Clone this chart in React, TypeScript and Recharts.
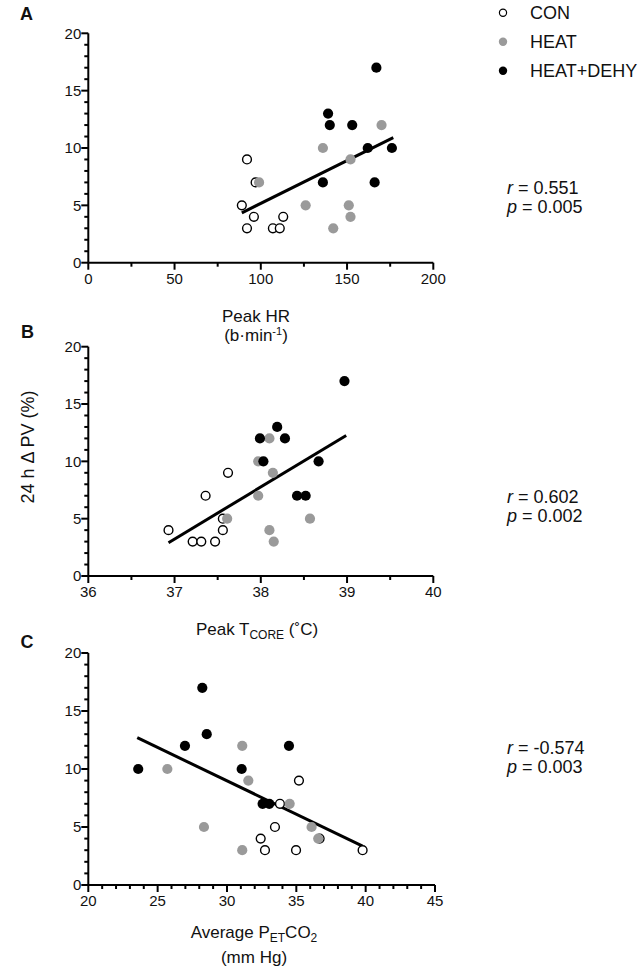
import { ScatterChart, Scatter, XAxis, YAxis, ReferenceLine } from 'recharts';

// A: Peak HR vs 24 h ΔPV
const conA = [{ x: 92, y: 9 }, { x: 97, y: 7 }, { x: 89, y: 5 }, { x: 96, y: 4 }, { x: 92, y: 3 }, { x: 107, y: 3 }, { x: 111, y: 3 }, { x: 113, y: 4 }];
const heatA = [{ x: 99, y: 7 }, { x: 136, y: 10 }, { x: 126, y: 5 }, { x: 152, y: 9 }, { x: 151, y: 5 }, { x: 152, y: 4 }, { x: 142, y: 3 }, { x: 170, y: 12 }];
const dehyA = [{ x: 139, y: 13 }, { x: 140, y: 12 }, { x: 153, y: 12 }, { x: 167, y: 17 }, { x: 136, y: 7 }, { x: 162, y: 10 }, { x: 176, y: 10 }, { x: 166, y: 7 }];
const fitA = [{ x: 89, y: 4.35 }, { x: 176.8, y: 10.9 }];

// B: Peak Tcore
const conB = [{ x: 36.93, y: 4 }, { x: 37.21, y: 3 }, { x: 37.31, y: 3 }, { x: 37.47, y: 3 }, { x: 37.36, y: 7 }, { x: 37.56, y: 5 }, { x: 37.56, y: 4 }, { x: 37.62, y: 9 }];
const heatB = [{ x: 37.61, y: 5 }, { x: 37.97, y: 7 }, { x: 37.97, y: 10 }, { x: 38.1, y: 12 }, { x: 38.14, y: 9 }, { x: 38.1, y: 4 }, { x: 38.15, y: 3 }, { x: 38.57, y: 5 }];
const dehyB = [{ x: 37.99, y: 12 }, { x: 38.03, y: 10 }, { x: 38.19, y: 13 }, { x: 38.28, y: 12 }, { x: 38.42, y: 7 }, { x: 38.52, y: 7 }, { x: 38.67, y: 10 }, { x: 38.97, y: 17 }];
const fitB = [{ x: 36.93, y: 2.9 }, { x: 38.99, y: 12.26 }];

// C: Average PetCO2
const conC = [{ x: 33.82, y: 7 }, { x: 35.19, y: 9 }, { x: 33.46, y: 5 }, { x: 32.43, y: 4 }, { x: 32.74, y: 3 }, { x: 34.98, y: 3 }, { x: 36.68, y: 4 }, { x: 39.78, y: 3 }];
const heatC = [{ x: 25.7, y: 10 }, { x: 28.34, y: 5 }, { x: 31.1, y: 12 }, { x: 31.54, y: 9 }, { x: 31.1, y: 3 }, { x: 34.52, y: 7 }, { x: 36.1, y: 5 }, { x: 36.58, y: 4 }];
const dehyC = [{ x: 23.6, y: 10 }, { x: 26.97, y: 12 }, { x: 28.22, y: 17 }, { x: 28.54, y: 13 }, { x: 31.06, y: 10 }, { x: 32.57, y: 7 }, { x: 33.05, y: 7 }, { x: 34.47, y: 12 }];
const fitC = [{ x: 23.53, y: 12.7 }, { x: 39.78, y: 3.36 }];

const yTicks = [0, 1, 2, 3, 4, 5, 6, 7, 8, 9, 10, 11, 12, 13, 14, 15, 16, 17, 18, 19, 20];
const yLabels = [0, 5, 10, 15, 20];
const xTicksA = [0, 25, 50, 75, 100, 125, 150, 175, 200];
const xLabelsA = [0, 50, 100, 150, 200];
const xTicksB = [36, 36.5, 37, 37.5, 38, 38.5, 39, 39.5, 40];
const xLabelsB = [36, 37, 38, 39, 40];
const xTicksC = [20, 21, 22, 23, 24, 25, 26, 27, 28, 29, 30, 31, 32, 33, 34, 35, 36, 37, 38, 39, 40, 41, 42, 43, 44, 45];
const xLabelsC = [20, 25, 30, 35, 40, 45];

const groups = ['CON', 'HEAT', 'HEAT+DEHY'];

const FONT = '"Liberation Sans", Arial, Helvetica, sans-serif';
const GRAY = '#9a9a9a';

const openDot = (p: any) => <circle cx={p.cx} cy={p.cy} r={4.4} fill="#fff" stroke="#000" strokeWidth={1.4} />;
const grayDot = (p: any) => <circle cx={p.cx} cy={p.cy} r={5.1} fill={GRAY} />;
const blackDot = (p: any) => <circle cx={p.cx} cy={p.cy} r={5.1} fill="#000" />;

const makeXTick = (labels: number[]) => (props: any) => {
    const { x, y, payload } = props;
    const major = labels.includes(payload.value);
    return (
        <g>
            <line x1={x} x2={x} y1={y} y2={y + (major ? 7 : 4)} stroke="#000" strokeWidth={2} />
            {major && (
                <text x={x} y={y + 21} textAnchor="middle" fontSize={15} fill="#111" fontFamily={FONT}>
                    {payload.value}
                </text>
            )}
        </g>
    );
};

const YTick = (props: any) => {
    const { x, y, payload } = props;
    const major = yLabels.includes(payload.value);
    return (
        <g>
            <line x1={x} x2={x - (major ? 7 : 4)} y1={y} y2={y} stroke="#000" strokeWidth={2} />
            {major && (
                <text x={x - 7} y={y + 5.3} textAnchor="end" fontSize={15} fill="#111" fontFamily={FONT}>
                    {payload.value}
                </text>
            )}
        </g>
    );
};

interface PanelProps {
    top: number;
    height: number;
    marginTop: number;
    marginRight: number;
    xAxisHeight: number;
    domain: [number, number];
    ticks: number[];
    labels: number[];
    con: { x: number; y: number }[];
    heat: { x: number; y: number }[];
    dehy: { x: number; y: number }[];
    fit: { x: number; y: number }[];
}

function Panel(p: PanelProps) {
    return (
        <div style={{ position: 'absolute', left: 0, top: p.top }}>
            <ScatterChart
                width={641}
                height={p.height}
                margin={{ top: p.marginTop, right: p.marginRight, bottom: 0, left: 0 }}
            >
                <XAxis
                    type="number"
                    dataKey="x"
                    domain={p.domain}
                    ticks={p.ticks}
                    interval={0}
                    height={p.xAxisHeight}
                    axisLine={{ stroke: '#000', strokeWidth: 2 }}
                    tickLine={false}
                    tickSize={0}
                    tickMargin={0}
                    tick={makeXTick(p.labels)}
                />
                <YAxis
                    type="number"
                    dataKey="y"
                    domain={[0, 20]}
                    ticks={yTicks}
                    interval={0}
                    width={88.3}
                    axisLine={{ stroke: '#000', strokeWidth: 2 }}
                    tickLine={false}
                    tickSize={0}
                    tickMargin={0}
                    tick={YTick}
                />
                <Scatter name={groups[0]} data={p.con} shape={openDot} isAnimationActive={false} />
                <Scatter name={groups[1]} data={p.heat} shape={grayDot} isAnimationActive={false} />
                <Scatter name={groups[2]} data={p.dehy} shape={blackDot} isAnimationActive={false} />
                <ReferenceLine
                    segment={[p.fit[0], p.fit[1]]}
                    stroke="#000"
                    strokeWidth={3}
                />
            </ScatterChart>
        </div>
    );
}

export default function App() {
    return (
        <div style={{ position: 'absolute', left: 0, top: 0, width: 641, height: 967, background: '#fff', fontFamily: FONT }}>
            <Panel top={0} height={300} marginTop={33.3} marginRight={207.7} xAxisHeight={37.3}
                domain={[0, 200]} ticks={xTicksA} labels={xLabelsA}
                con={conA} heat={heatA} dehy={dehyA} fit={fitA} />
            <Panel top={300} height={310} marginTop={46.7} marginRight={207.7} xAxisHeight={34}
                domain={[36, 40]} ticks={xTicksB} labels={xLabelsB}
                con={conB} heat={heatB} dehy={dehyB} fit={fitB} />
            <Panel top={610} height={300} marginTop={43} marginRight={206} xAxisHeight={25}
                domain={[20, 45]} ticks={xTicksC} labels={xLabelsC}
                con={conC} heat={heatC} dehy={dehyC} fit={fitC} />

            <svg width={641} height={967} style={{ position: 'absolute', left: 0, top: 0, pointerEvents: 'none' }} fontFamily={FONT} fill="#111">
                {/* panel letters */}
                <text x={20} y={19.7} fontSize={18} fontWeight="bold">A</text>
                <text x={21} y={338.3} fontSize={18} fontWeight="bold">B</text>
                <text x={20.5} y={647.5} fontSize={18} fontWeight="bold">C</text>

                {/* legend */}
                <circle cx={503} cy={12.7} r={3.6} fill="#fff" stroke="#000" strokeWidth={1.2} />
                <circle cx={503} cy={41.7} r={4.2} fill={GRAY} />
                <circle cx={503} cy={70.7} r={4.2} fill="#000" />
                <text x={530} y={19.2} fontSize={18}>{groups[0]}</text>
                <text x={530} y={48.2} fontSize={18}>{groups[1]}</text>
                <text x={530} y={77.2} fontSize={18}>{groups[2]}</text>

                {/* stats */}
                <text x={507} y={193.5} fontSize={18}><tspan fontStyle="italic">r</tspan> = 0.551</text>
                <text x={507} y={212.5} fontSize={18}><tspan fontStyle="italic">p</tspan> = 0.005</text>
                <text x={507} y={503} fontSize={18}><tspan fontStyle="italic">r</tspan> = 0.602</text>
                <text x={507} y={522} fontSize={18}><tspan fontStyle="italic">p</tspan> = 0.002</text>
                <text x={507} y={753.5} fontSize={18}><tspan fontStyle="italic">r</tspan> = -0.574</text>
                <text x={507} y={772.5} fontSize={18}><tspan fontStyle="italic">p</tspan> = 0.003</text>

                {/* axis titles */}
                <text x={256} y={322} fontSize={17} textAnchor="middle">Peak HR</text>
                <text x={256} y={341} fontSize={17} textAnchor="middle">
                    (b·min<tspan dy={-6} fontSize={11}>-1</tspan><tspan dy={6}>)</tspan>
                </text>
                <text x={257} y={635} fontSize={17} textAnchor="middle">
                    Peak T<tspan dy={4} fontSize={12}>CORE</tspan><tspan dy={-4}> (˚C)</tspan>
                </text>
                <text x={254} y={938} fontSize={17} textAnchor="middle">
                    Average P<tspan dy={4} fontSize={12}>ET</tspan><tspan dy={-4}>CO</tspan><tspan dy={4} fontSize={12}>2</tspan>
                </text>
                <text x={254} y={962.5} fontSize={17} textAnchor="middle">(mm Hg)</text>
                <text x={33.5} y={447} fontSize={18} textAnchor="middle" transform="rotate(-90 33.5 447)">24 h Δ PV (%)</text>
            </svg>
        </div>
    );
}
